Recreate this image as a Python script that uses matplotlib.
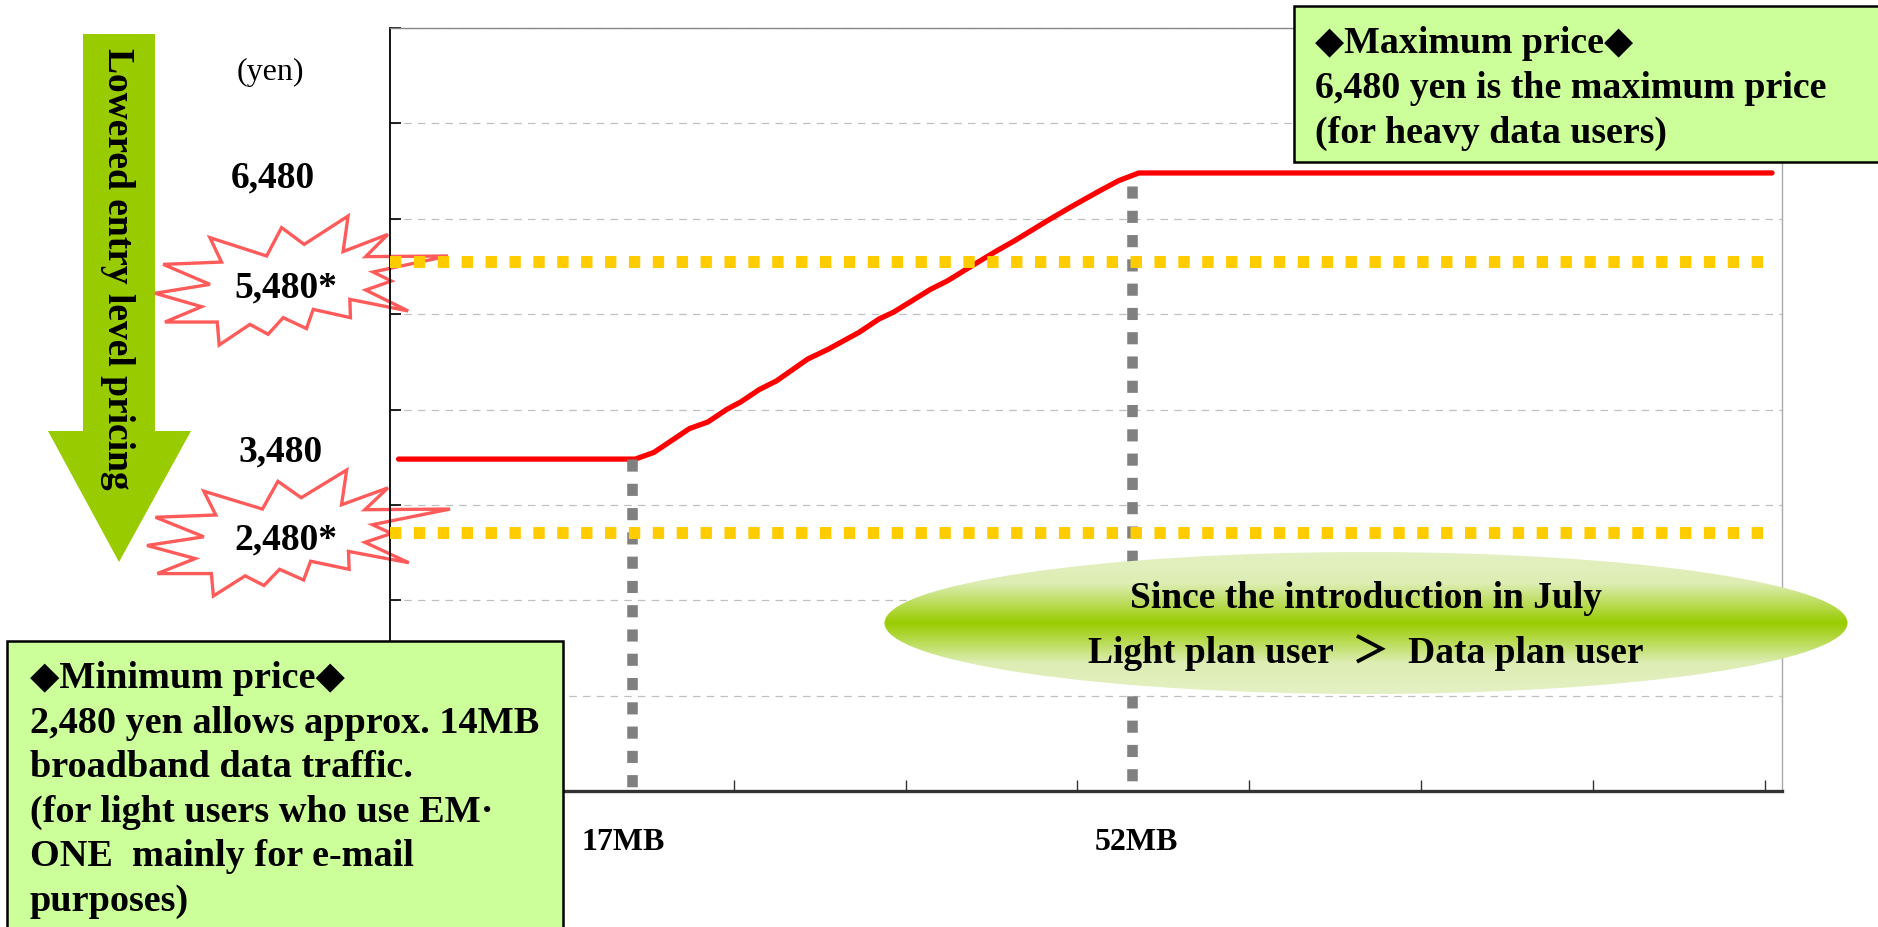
import matplotlib
matplotlib.use("Agg")
import matplotlib.pyplot as plt
import numpy as np
from matplotlib.patches import Polygon, Rectangle, Ellipse
from matplotlib.colors import LinearSegmentedColormap
from matplotlib.transforms import blended_transform_factory

plt.rcParams['font.family'] = ['Liberation Serif', 'DejaVu Serif', 'Noto Sans CJK JP']

# price curve (data traffic in MB -> monthly price in yen)
usage_mb = [0.6, 17.2, 18.5, 21.0, 22.3, 23.6, 24.6, 25.9, 27.1, 29.3, 30.7, 32.9,
            34.3, 35.3, 37.9, 39.1, 40.4, 42.5, 43.8, 46.1, 47.7, 49.6, 51.1, 52.5, 96.9]
price_yen = [3480, 3480, 3550, 3800, 3870, 4000, 4080, 4210, 4300, 4530, 4630, 4810,
             4950, 5020, 5260, 5350, 5470, 5660, 5770, 5980, 6120, 6280, 6400, 6480, 6480]

threshold_mb = [17, 52]
threshold_top = [3480, 6340]
threshold_labels = ['17MB', '52MB']

base_prices = [6480, 3480]
discount_levels = [5550, 2700]          # where the dotted lines sit in the picture
discount_labels = ['5,480*', '2,480*']

max_box_lines = ['◆Maximum price◆',
                 '6,480 yen is the maximum price',
                 '(for heavy data users)']
min_box_lines = ['◆Minimum price◆',
                 '2,480 yen allows approx. 14MB',
                 'broadband data traffic.',
                 '(for light users who use EM·',
                 'ONE  mainly for e-mail',
                 'purposes)']
ellipse_lines = ['Since the introduction in July',
                 'Light plan user  ＞  Data plan user']
arrow_text = 'Lowered entry level pricing'

# outline of the "explosion" callout, relative to its bounding box
burst = np.array([
    (0, .599), (.1875, .530), (.028, .375), (.227, .357), (.1875, .168), (.381, .310),
    (.432, .090), (.509, .220), (.659, 0), (.642, .276), (.795, .142), (.719, .315),
    (1.0, .310), (.744, .434), (.807, .504), (.719, .574), (.864, .736), (.665, .646),
    (.667, .788), (.540, .724), (.517, .873), (.4375, .788), (.386, .917), (.324, .840),
    (.219, 1.0), (.2125, .822), (.034, .822), (.159, .703)])

W, H = 1878, 928
fig = plt.figure(figsize=(W / 100, H / 100), dpi=100)
fig.patch.set_facecolor('white')

def overlay(z):
    o = fig.add_axes([0, 0, 1, 1], zorder=z)
    o.axis('off')
    return o

bg = overlay(0)

# main plot area
L, R, T, B = 390, 1782, 29, 792
ax = fig.add_axes([L / W, 1 - B / H, (R - L) / W, (B - T) / H], zorder=1)
ax.patch.set_alpha(0)
ax.set_xlim(0, 97.6)
ax.set_ylim(0, 8000)
ax.set_yticks(np.arange(0, 8001, 1000))
ax.set_xticks(np.arange(1, 9) * 12.05)
ax.set_xticklabels([])
ax.set_yticklabels([])
ax.tick_params(axis='y', direction='in', length=8, width=1.2, color='black')
ax.tick_params(axis='x', direction='in', length=8, width=1, color='#333333')
ax.yaxis.grid(True, color='#C0C0C0', linestyle=(0, (6, 5)), linewidth=0.9)
ax.set_axisbelow(True)
ax.spines['left'].set_color('black')
ax.spines['left'].set_linewidth(1.3)
ax.spines['bottom'].set_color('#333333')
ax.spines['bottom'].set_linewidth(2.4)
ax.spines['top'].set_color('#888888')
ax.spines['top'].set_linewidth(1)
ax.spines['right'].set_color('#AAAAAA')
ax.spines['right'].set_linewidth(1)

ax.plot(usage_mb, price_yen, color='#FF0000', linewidth=3.8,
        solid_capstyle='round', solid_joinstyle='round', zorder=3)
for mb, top in zip(threshold_mb, threshold_top):
    ax.plot([mb, mb], [top, 0], color='#808080', linewidth=7.6,
            dashes=(1.15, 1.15), dash_capstyle='butt', zorder=4)
for lvl in discount_levels:
    ax.axhline(lvl, xmin=0, xmax=0.9935, color='#FFCC00', linewidth=8.6,
               dashes=(0.95, 1.05), dash_capstyle='butt', zorder=5)

trans = blended_transform_factory(ax.transData, ax.transAxes)
for mb, lab, dx in zip(threshold_mb, threshold_labels, [-0.65, 0.35]):
    ax.text(mb + dx, -0.076, lab, transform=trans, ha='center', va='baseline',
            fontsize=23, fontweight='bold', clip_on=False)

# left side decorations: arrow, price labels, explosions
arrow = [(83, 35), (155, 35), (155, 432), (191, 432), (119, 563), (48, 432), (83, 432)]
bg.add_patch(Polygon(arrow, closed=True, facecolor='#99CC00', edgecolor='none'))
bg.text(117, 269, arrow_text, rotation=270, ha='center', va='center',
        fontsize=27, fontweight='bold')

bg.text(270, 80, '(yen)', ha='center', va='baseline', fontsize=23)
for p, yb, xc in zip(base_prices, [187, 461], [273, 280]):
    bg.text(xc, yb, f'{p:,}', ha='center', va='baseline', fontsize=27, fontweight='bold')

boxes = [(155, 217, 293, 129), (147, 471, 303, 126)]
for (x0, y0, bw, bh), lab, yb in zip(boxes, discount_labels, [297, 549]):
    pts = np.column_stack([x0 + burst[:, 0] * bw, y0 + burst[:, 1] * bh])
    bg.add_patch(Polygon(pts, closed=True, facecolor='white', edgecolor='#FF5B5B',
                         linewidth=2.4, joinstyle='miter'))
    bg.text(286, yb, lab, ha='center', va='baseline', fontsize=27, fontweight='bold')

bg.set_xlim(0, W)
bg.set_ylim(H, 0)

# foreground callouts
fg = overlay(2)
fg.add_patch(Rectangle((1294, 7), 620, 156, facecolor='#CCFF99', edgecolor='black',
                       linewidth=1.8))
for i, s in enumerate(max_box_lines):
    fg.text(1315, 53 + 45 * i, s, ha='left', va='baseline', fontsize=27.3, fontweight='bold')

fg.add_patch(Rectangle((7, 642), 556, 320, facecolor='#CCFF99', edgecolor='black',
                       linewidth=1.8))
for i, s in enumerate(min_box_lines):
    fg.text(30, 688 + 44.6 * i, s, ha='left', va='baseline', fontsize=27.5, fontweight='bold')

ell = Ellipse((1366, 624), 963, 142, facecolor='none', edgecolor='none')
fg.add_patch(ell)
cmap = LinearSegmentedColormap.from_list('band', [(0, '#E4F1C4'), (0.22, '#DDEDB3'),
                                                  (0.5, '#99CC00'), (0.78, '#DDEDB3'),
                                                  (1, '#E4F1C4')])
grad = np.linspace(0, 1, 256).reshape(-1, 1)
im = fg.imshow(grad, extent=(884, 1848, 695, 553), cmap=cmap, aspect='auto')
im.set_clip_path(ell)
for i, s in enumerate(ellipse_lines):
    fg.text(1366, 608 + 55 * i, s, ha='center', va='baseline', fontsize=27, fontweight='bold')

fg.set_xlim(0, W)
fg.set_ylim(H, 0)

fig.savefig('out.png', dpi=100)
